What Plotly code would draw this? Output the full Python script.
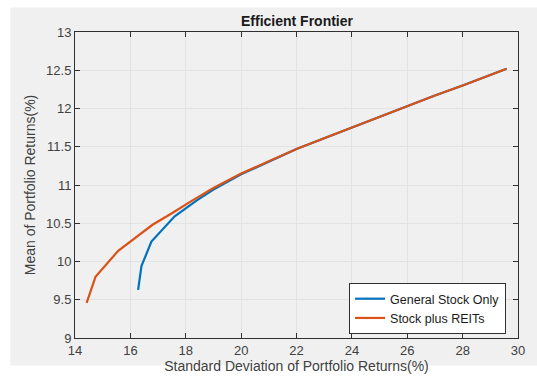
import plotly.graph_objects as go

# Data
red_x = [14.42, 14.74, 15.56, 16.2, 16.8, 17.5, 18.2, 19.0, 20.0, 21.0, 22.0, 23.0, 24.0, 25.0, 26.0, 27.0, 28.0, 29.0, 29.59]
red_y = [9.46, 9.80, 10.14, 10.32, 10.48, 10.63, 10.79, 10.96, 11.15, 11.31, 11.47, 11.61, 11.75, 11.90, 12.04, 12.17, 12.30, 12.44, 12.52]

blue_x = [16.28, 16.40, 16.76, 17.6, 18.4, 19.0, 20.0, 21.0, 22.0, 23.0, 24.0, 25.0, 26.0, 27.0, 28.0, 29.0, 29.59]
blue_y = [9.63, 9.94, 10.26, 10.59, 10.80, 10.94, 11.14, 11.31, 11.47, 11.61, 11.75, 11.90, 12.04, 12.17, 12.30, 12.44, 12.52]

x_ticks = [14, 16, 18, 20, 22, 24, 26, 28, 30]
y_ticks = [9, 9.5, 10, 10.5, 11, 11.5, 12, 12.5, 13]

font = "Liberation Sans, Arial, sans-serif"
axcol = "#303030"

fig = go.Figure()
fig.add_trace(go.Scatter(x=blue_x, y=blue_y, mode="lines", name="General Stock Only",
                         line=dict(color="#0072BD", width=2.2)))
fig.add_trace(go.Scatter(x=red_x, y=red_y, mode="lines", name="Stock plus REITs",
                         line=dict(color="#D95319", width=2.2)))

L, R, T, B = 75, 17, 32, 38
W, H = 537, 382
pw = W - L - R
ph = H - T - B

def px2x(p):
    return (p - L) / pw

def px2y(p):
    return (H - B - p) / ph

fig.add_shape(type="rect", xref="paper", yref="paper", layer="below",
              x0=px2x(10), x1=px2x(540), y0=px2y(372), y1=px2y(7),
              fillcolor="#f0f0f1", line=dict(width=0))

axis_common = dict(showline=True, linecolor=axcol, linewidth=1, mirror="ticks",
                   ticks="inside", ticklen=5, tickcolor=axcol,
                   showgrid=True, gridcolor="#e3e3e3", gridwidth=1, zeroline=False,
                   tickfont=dict(family=font, size=13, color="#404040"))

fig.update_layout(
    width=W, height=H,
    margin=dict(l=L, r=R, t=T, b=B),
    paper_bgcolor="white", plot_bgcolor="white",
    title=dict(text="<b>Efficient Frontier</b>", x=297 / W, xanchor="center",
               y=1 - 21 / H, yanchor="middle",
               font=dict(family=font, size=14, color="#1a1a1a")),
    xaxis=dict(range=[14, 30], tickvals=x_ticks, ticktext=[str(v) for v in x_ticks],
               title=dict(text="Standard Deviation of Portfolio Returns(%)", standoff=3,
                          font=dict(family=font, size=14, color="#404040")),
               **axis_common),
    yaxis=dict(range=[9, 13], tickvals=y_ticks, ticktext=[("%g" % v) for v in y_ticks],
               title=dict(text="Mean of Portfolio Returns(%)", standoff=7,
                          font=dict(family=font, size=14, color="#404040")),
               **axis_common),
    legend=dict(x=px2x(508), xanchor="right", y=px2y(340), yanchor="bottom",
                bgcolor="white", bordercolor=axcol, borderwidth=1,
                font=dict(family=font, size=12.5, color="#1a1a1a"),
                tracegroupgap=0, itemwidth=30),
    showlegend=True,
)

fig.write_html("out.html")
